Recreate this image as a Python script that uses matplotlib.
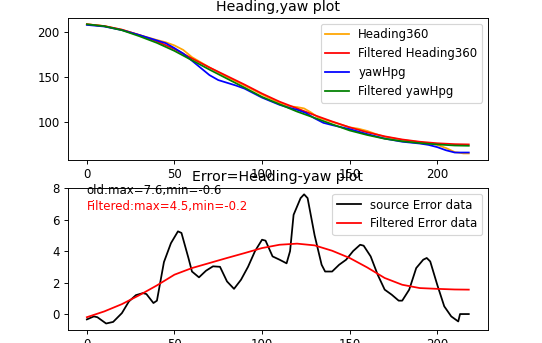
import matplotlib
matplotlib.use('Agg')
import matplotlib.pyplot as plt

# Heading / yaw curves
x_heading = [0, 10, 20, 30, 40, 45, 50, 55, 60, 70, 80, 90, 100, 110, 115, 120, 124, 128,
             132, 140, 150, 155, 160, 165, 170, 180, 190, 200, 205, 210, 215, 218]
heading360 = [208.5, 206.5, 202.5, 196.5, 191, 188.5, 185, 180, 172, 160.5, 150, 140.5,
              130.5, 121, 117.5, 116.5, 115, 110.5, 105, 100, 94, 92.5, 90, 86.5, 83.5,
              80, 77.5, 74.5, 71, 66.5, 65, 65]

x_filt = [0, 10, 20, 30, 40, 50, 60, 70, 80, 90, 100, 110, 120, 130, 140, 150, 160,
          170, 180, 190, 200, 210, 218]
filtered_heading = [208.5, 206.5, 202.5, 196.5, 189.5, 181, 170.5, 160.5, 151, 141.5,
                    131.5, 122.5, 115, 107.5, 100.5, 94, 88.5, 84, 80.5, 78, 76.3, 75.3, 75]
filtered_yaw = [208.5, 206.3, 201.9, 195.2, 187.8, 178.9, 168.5, 158.1, 148.1, 138.1,
                127.8, 119.6, 111.5, 104.5, 97.4, 90.5, 85.5, 81.3, 78.5, 76.5, 75.0,
                73.8, 73.5]

x_yaw = [0, 10, 20, 30, 40, 45, 50, 55, 60, 65, 70, 75, 80, 85, 90, 100, 110, 115, 120,
         125, 130, 135, 140, 150, 160, 170, 180, 190, 195, 200, 205, 210, 218]
yaw_hpg = [207.8, 206, 202, 196.5, 190.5, 187.5, 182, 176, 168, 160, 152, 146.5, 143.5,
           140.5, 137, 127, 119, 116, 113.5, 110, 104, 99, 96.5, 92, 86.5, 81.5, 78, 76,
           74.5, 72, 68.5, 66, 66]

# Error = Heading - yaw
x_err = [0, 4, 6, 11, 15, 20, 24, 28, 32, 34, 38, 40, 44, 48, 52, 54, 58, 60, 64, 68,
         72, 76, 80, 84, 88, 92, 96, 100, 102, 106, 110, 114, 116, 118, 122, 124, 126,
         130, 134, 136, 140, 144, 148, 152, 156, 158, 162, 166, 170, 174, 178, 180, 184,
         188, 192, 194, 196, 200, 204, 208, 212, 213, 218]
source_error = [-0.34, -0.15, -0.2, -0.6, -0.5, 0.06, 0.8, 1.2, 1.33, 1.27, 0.7, 0.85,
                3.3, 4.5, 5.25, 5.15, 3.55, 2.7, 2.33, 2.75, 3.03, 3.0, 2.07, 1.6, 2.18,
                3.0, 4.0, 4.72, 4.66, 3.66, 3.45, 3.22, 4.0, 6.3, 7.36, 7.6, 7.36, 5.0,
                3.13, 2.7, 2.7, 3.13, 3.45, 4.0, 4.4, 4.34, 3.66, 2.5, 1.55, 1.23, 0.85,
                0.85, 1.55, 2.92, 3.45, 3.56, 3.34, 1.86, 0.49, -0.15, -0.47, 0.0, 0.0]

x_ferr = [0, 10, 20, 30, 40, 50, 60, 70, 80, 90, 100, 110, 120, 130, 140, 150, 160, 170,
          180, 190, 200, 210, 218]
filtered_error = [-0.2, 0.17, 0.63, 1.2, 1.82, 2.5, 2.92, 3.24, 3.56, 3.87, 4.19, 4.4,
                  4.47, 4.36, 4.02, 3.56, 2.96, 2.29, 1.86, 1.65, 1.6, 1.56, 1.55]

fig = plt.figure(figsize=(6.4, 4.05), dpi=84.7)

# Heading / yaw
ax1 = plt.subplot(2, 1, 1)
ax1.plot(x_heading, heading360, color='orange', label='Heading360')
ax1.plot(x_filt, filtered_heading, 'r', label='Filtered Heading360')
ax1.plot(x_yaw, yaw_hpg, 'b', label='yawHpg')
ax1.plot(x_filt, filtered_yaw, 'g', label='Filtered yawHpg')
ax1.set_title('Heading,yaw plot')
ax1.legend(loc='upper right')

# Error
ax2 = plt.subplot(2, 1, 2)
ax2.plot(x_err, source_error, 'k', label='source Error data')
ax2.plot(x_ferr, filtered_error, 'r', label='Filtered Error data')
ax2.text(0, 7.6, 'old:max=7.6,min=-0.6')
ax2.text(0, 6.6, 'Filtered:max=4.5,min=-0.2', color='r')
ax2.set_title('Error=Heading-yaw plot')
ax2.legend(loc='upper right')

plt.subplots_adjust(left=0.125, right=0.9, top=0.948, bottom=0.038, hspace=0.197)
plt.savefig('out.png', dpi=84.7)
